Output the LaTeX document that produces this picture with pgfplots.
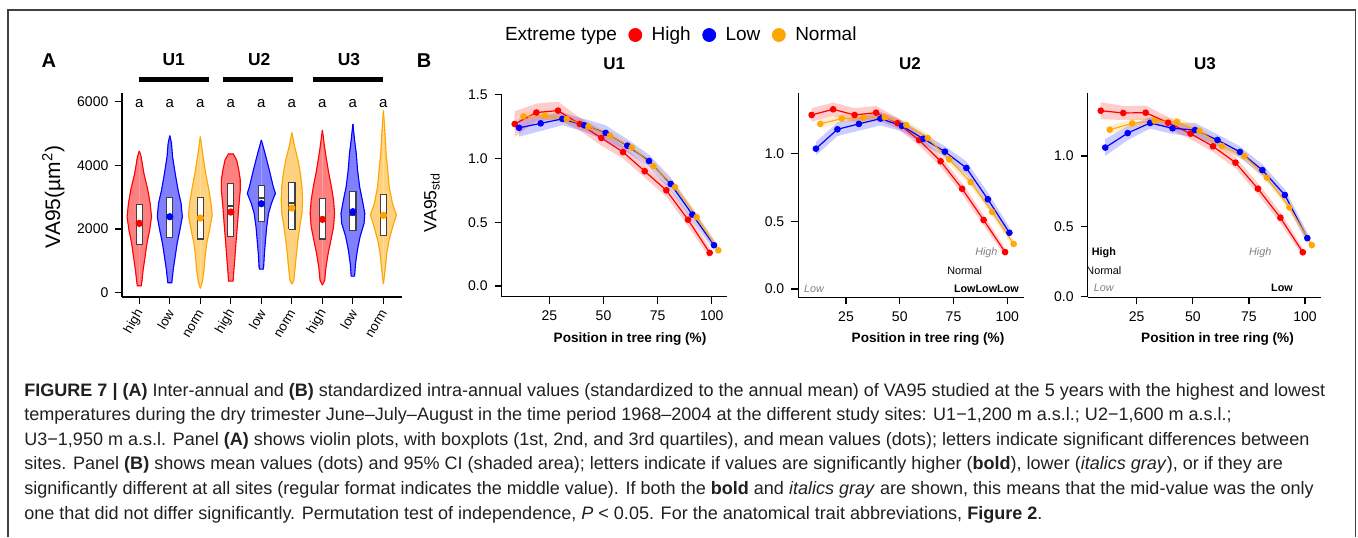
\documentclass[border=0pt]{standalone}
\usepackage{fontspec}
\setmainfont{Liberation Sans}
\newfontfamily\capfont{Liberation Sans}
\usepackage{pgfplots}
\usepackage{pgfplotstable}
\pgfplotsset{compat=1.18}
\definecolor{orng}{HTML}{FFA500}
\definecolor{capcol}{HTML}{231F20}
\newlength{\capw}

% ---------- Panel A: violin profiles (value, half-width in category units)
\pgfplotstableread{
v w
220 0
220 0.065
397 0.09
711 0.125
1130 0.19
1549 0.25
1968 0.34
2386 0.40
2805 0.355
3224 0.28
3748 0.15
4270 0.06
4450 0
}\vA
\pgfplotstableread{
v w
313 0
313 0.065
397 0.075
711 0.11
1130 0.175
1549 0.24
1968 0.33
2386 0.41
2805 0.37
3224 0.27
3748 0.175
4271 0.09
4690 0.055
4931 0
}\vB
\pgfplotstableread{
v w
135 0
345 0.065
711 0.12
1130 0.155
1549 0.21
1968 0.30
2440 0.39
2805 0.35
3224 0.28
3748 0.175
4271 0.09
4899 0
}\vC
\pgfplotstableread{
v w
366 0
366 0.075
450 0.08
711 0.10
1130 0.135
1654 0.175
2177 0.22
2700 0.26
3224 0.31
3538 0.31
3852 0.26
4166 0.19
4355 0.08
4355 0
}\vD
\pgfplotstableread{
v w
742 0
742 0.06
815 0.075
1234 0.10
1653 0.137
2072 0.175
2490 0.235
2805 0.33
3119 0.46
3328 0.39
3852 0.26
4375 0.12
4794 0
}\vE
\pgfplotstableread{
v w
271 0
396 0.065
815 0.11
1234 0.15
1653 0.20
2072 0.26
2490 0.33
2910 0.35
3328 0.33
3747 0.28
4166 0.20
4584 0.09
5024 0
}\vF
\pgfplotstableread{
v w
240 0
396 0.077
815 0.12
1234 0.19
1653 0.28
2072 0.366
2490 0.40
2910 0.366
3328 0.295
3747 0.21
4166 0.137
4584 0.07
5108 0
}\vG
\pgfplotstableread{
v w
522 0
522 0.055
920 0.087
1339 0.148
1758 0.235
2177 0.366
2490 0.39
2910 0.31
3328 0.22
3852 0.153
4375 0.11
4794 0.055
5296 0
}\vH
\pgfplotstableread{
v w
271 0
815 0.066
1234 0.109
1653 0.186
2072 0.306
2438 0.426
2805 0.295
3328 0.19
3852 0.142
4375 0.087
5108 0.045
5715 0
}\vI

% ---------- Panel B: means and CI half-widths (rows 0-9 forward, 10-19 reversed for the CI outline)
\pgfplotstableread{
k H eH L eL N eN s
10 1.27 0.10 1.24 0.07 1.33 0.03 1
20 1.36 0.07 1.275 0.06 1.335 0.03 1
30 1.375 0.07 1.31 0.05 1.31 0.03 1
40 1.27 0.05 1.26 0.05 1.25 0.03 1
50 1.16 0.06 1.20 0.06 1.18 0.03 1
60 1.05 0.05 1.10 0.05 1.085 0.03 1
70 0.90 0.05 0.98 0.05 0.94 0.03 1
80 0.75 0.05 0.80 0.05 0.775 0.03 1
90 0.52 0.05 0.56 0.05 0.54 0.03 1
100 0.26 0.04 0.32 0.04 0.28 0.03 1
100 0.26 0.04 0.32 0.04 0.28 0.03 -1
90 0.52 0.05 0.56 0.05 0.54 0.03 -1
80 0.75 0.05 0.80 0.05 0.775 0.03 -1
70 0.90 0.05 0.98 0.05 0.94 0.03 -1
60 1.05 0.05 1.10 0.05 1.085 0.03 -1
50 1.16 0.06 1.20 0.06 1.18 0.03 -1
40 1.27 0.05 1.26 0.05 1.25 0.03 -1
30 1.375 0.07 1.31 0.05 1.31 0.03 -1
20 1.36 0.07 1.275 0.06 1.335 0.03 -1
10 1.27 0.10 1.24 0.07 1.33 0.03 -1
}\tUa
\pgfplotstableread{
k H eH L eL N eN s
10 1.286 0.05 1.037 0.05 1.22 0.03 1
20 1.328 0.05 1.18 0.05 1.259 0.03 1
30 1.286 0.05 1.22 0.05 1.264 0.03 1
40 1.303 0.05 1.259 0.05 1.269 0.03 1
50 1.225 0.04 1.205 0.04 1.212 0.03 1
60 1.10 0.04 1.11 0.04 1.116 0.03 1
70 0.944 0.04 1.015 0.04 0.958 0.03 1
80 0.741 0.04 0.894 0.05 0.79 0.03 1
90 0.51 0.04 0.663 0.05 0.569 0.03 1
100 0.273 0.03 0.416 0.04 0.333 0.03 1
100 0.273 0.03 0.416 0.04 0.333 0.03 -1
90 0.51 0.04 0.663 0.05 0.569 0.03 -1
80 0.741 0.04 0.894 0.05 0.79 0.03 -1
70 0.944 0.04 1.015 0.04 0.958 0.03 -1
60 1.10 0.04 1.11 0.04 1.116 0.03 -1
50 1.225 0.04 1.205 0.04 1.212 0.03 -1
40 1.303 0.05 1.259 0.05 1.269 0.03 -1
30 1.286 0.05 1.22 0.05 1.264 0.03 -1
20 1.328 0.05 1.18 0.05 1.259 0.03 -1
10 1.286 0.05 1.037 0.05 1.22 0.03 -1
}\tUb
\pgfplotstableread{
k H eH L eL N eN s
10 1.322 0.06 1.06 0.06 1.187 0.03 1
20 1.306 0.05 1.163 0.05 1.232 0.03 1
30 1.308 0.05 1.235 0.04 1.251 0.03 1
40 1.237 0.04 1.197 0.04 1.242 0.03 1
50 1.159 0.04 1.185 0.05 1.178 0.03 1
60 1.069 0.04 1.114 0.04 1.071 0.03 1
70 0.953 0.04 1.029 0.04 1.0 0.03 1
80 0.768 0.04 0.90 0.04 0.846 0.03 1
90 0.562 0.04 0.723 0.04 0.635 0.03 1
100 0.316 0.03 0.417 0.04 0.367 0.03 1
100 0.316 0.03 0.417 0.04 0.367 0.03 -1
90 0.562 0.04 0.723 0.04 0.635 0.03 -1
80 0.768 0.04 0.90 0.04 0.846 0.03 -1
70 0.953 0.04 1.029 0.04 1.0 0.03 -1
60 1.069 0.04 1.114 0.04 1.071 0.03 -1
50 1.159 0.04 1.185 0.05 1.178 0.03 -1
40 1.237 0.04 1.197 0.04 1.242 0.03 -1
30 1.308 0.05 1.235 0.04 1.251 0.03 -1
20 1.306 0.05 1.163 0.05 1.232 0.03 -1
10 1.322 0.06 1.06 0.06 1.187 0.03 -1
}\tUc

\newcommand{\violin}[3]{%
 \addplot[fill=#2!50, draw=#2!50, line width=0.3pt] table[x expr=#1+\thisrow{w}, y=v]{#3};
 \addplot[fill=#2!50, draw=#2!50, line width=0.3pt] table[x expr=#1-\thisrow{w}, y=v]{#3};
 \addplot[#2, line width=0.55pt] table[x expr=#1+\thisrow{w}, y=v]{#3};
 \addplot[#2, line width=0.55pt] table[x expr=#1-\thisrow{w}, y=v]{#3};
}
\newcommand{\bx}[4]{%
 \addplot[draw=black!75, fill=white, line width=0.6pt] table[row sep=\\, x expr=#1+\thisrow{d}, y=v]{d v\\ -0.1 #2\\ 0.1 #2\\ 0.1 #4\\ -0.1 #4\\ -0.1 #2\\};
 \addplot[draw=black!75, line width=1.1pt] table[row sep=\\, x expr=#1+\thisrow{d}, y=v]{d v\\ -0.1 #3\\ 0.1 #3\\};
}
\newcommand{\band}[5]{%
 \addplot[fill=#5, fill opacity=0.2, draw=none, forget plot] table[x expr=\thisrow{k}#4, y expr=\thisrow{#2}+\thisrow{s}*\thisrow{#3}]{#1};
}
\newcommand{\ser}[5]{%
 \addplot[#4, line width=0.6pt, mark=*, mark size=1.35pt, forget plot, skip coords between index={10}{20}, #5] table[x expr=\thisrow{k}#3, y=#2]{#1};
}

\pgfplotsset{
 bpanel/.style={
  scale only axis, anchor=south west,
  axis lines*=left, axis line style={line width=0.6pt, black},
  tick align=outside, major tick length=3.5pt, tick style={line width=0.6pt, black},
  xtick={25,50,75,100}, ytick={0,0.5,1,1.5},
  tick label style={font=\fontsize{7}{8}\selectfont},
  /pgf/number format/assume math mode=true,
  yticklabel style={/pgf/number format/.cd, fixed, fixed zerofill, precision=1},
 },
}

\def\capA{\textbf{FIGURE 7 | (A)} Inter-annual and \textbf{(B)} standardized intra-annual values (standardized to the annual mean) of VA95 studied at the 5 years with the highest and lowest}
\def\capB{temperatures during the dry trimester June–July–August in the time period 1968–2004 at the different study sites: U1−1,200 m a.s.l.; U2−1,600 m a.s.l.;}
\def\capC{U3−1,950 m a.s.l. Panel \textbf{(A)} shows violin plots, with boxplots (1st, 2nd, and 3rd quartiles), and mean values (dots); letters indicate significant differences between}
\def\capD{sites. Panel \textbf{(B)} shows mean values (dots) and 95\% CI (shaded area); letters indicate if values are significantly higher (\textbf{bold}), lower (\textit{italics gray}), or if they are}
\def\capE{significantly different at all sites (regular format indicates the middle value). If both the \textbf{bold} and \textit{italics gray} are shown, this means that the mid-value was the only}
\def\capF{one that did not differ significantly. Permutation test of independence, \textit{P} < 0.05. For the anatomical trait abbreviations, \textbf{Figure 2}.}

\begin{document}
\settowidth{\capw}{\capfont\fontsize{10pt}{12pt}\selectfont\capA}%
\pgfmathsetmacro{\capfs}{10*650.5/\capw}%
\begin{tikzpicture}
\path[use as bounding box] (0pt,0pt) rectangle (679pt,-268.5pt);
\draw[black!75, line width=0.6pt] (4pt,-268.5pt) -- (4pt,-5pt) -- (677.75pt,-5pt) -- (677.75pt,-268.5pt);

% ================= Panel A
\begin{axis}[at={(61pt,-148.5pt)}, anchor=south west, scale only axis,
 width=140pt, height=102pt,
 xmin=0.433, xmax=9.61, ymin=-135, ymax=6270,
 axis lines*=left, axis line style={line width=0.6pt, black},
 tick align=outside, major tick length=3.3pt, tick style={line width=0.6pt, black},
 xtick={1,2,3,4,5,6,7,8,9},
 xticklabels={high,low,norm,high,low,norm,high,low,norm},
 ytick={0,2000,4000,6000},
 /pgf/number format/1000 sep={}, /pgf/number format/assume math mode=true,
 yticklabel style={font=\fontsize{7}{8}\selectfont},
 xticklabel style={font=\fontsize{6.6}{7}\selectfont, xshift=2.2pt, yshift=-0.5pt, rotate=60, anchor=east},
 clip=false]
 \violin{1}{red}{\vA}
 \violin{2}{blue}{\vB}
 \violin{3}{orng}{\vC}
 \violin{4}{red}{\vD}
 \violin{5}{blue}{\vE}
 \violin{6}{orng}{\vF}
 \violin{7}{red}{\vG}
 \violin{8}{blue}{\vH}
 \violin{9}{orng}{\vI}
 \bx{1}{1518}{2180}{2774}
 \bx{2}{1727}{2390}{2983}
 \bx{3}{1685}{2340}{2994}
 \bx{4}{1758}{2711}{3423}
 \bx{5}{2239}{2982}{3360}
 \bx{6}{1988}{2815}{3454}
 \bx{7}{1684}{2330}{2962}
 \bx{8}{1946}{2428}{3171}
 \bx{9}{1789}{2407}{3087}
 \addplot[only marks, mark=*, red, mark size=1.6pt] coordinates {(1,2177) (4,2533) (7,2302)};
 \addplot[only marks, mark=*, blue, mark size=1.6pt] coordinates {(2,2386) (5,2794) (8,2543)};
 \addplot[only marks, mark=*, orng, mark size=1.6pt] coordinates {(3,2345) (6,2658) (9,2428)};
 \node[font=\fontsize{7.5}{8}\selectfont] at (axis cs:1,5950) {a};
 \node[font=\fontsize{7.5}{8}\selectfont] at (axis cs:2,5950) {a};
 \node[font=\fontsize{7.5}{8}\selectfont] at (axis cs:3,5950) {a};
 \node[font=\fontsize{7.5}{8}\selectfont] at (axis cs:4,5950) {a};
 \node[font=\fontsize{7.5}{8}\selectfont] at (axis cs:5,5950) {a};
 \node[font=\fontsize{7.5}{8}\selectfont] at (axis cs:6,5950) {a};
 \node[font=\fontsize{7.5}{8}\selectfont] at (axis cs:7,5950) {a};
 \node[font=\fontsize{7.5}{8}\selectfont] at (axis cs:8,5950) {a};
 \node[font=\fontsize{7.5}{8}\selectfont] at (axis cs:9,5950) {a};
\end{axis}

% ================= Panel B, U1
\begin{axis}[bpanel, at={(250.85pt,-148.35pt)}, width=112.65pt, height=101.35pt,
 xmin=3, xmax=107, ymin=-0.084, ymax=1.505]
 \band{\tUa}{H}{eH}{-1}{red}
 \band{\tUa}{L}{eL}{+1}{blue}
 \band{\tUa}{N}{eN}{+3}{orng}
 \ser{\tUa}{H}{-1}{red}{}
 \ser{\tUa}{L}{+1}{blue}{}
 \ser{\tUa}{N}{+3}{orng}{opacity=0.9}
\end{axis}

% ================= Panel B, U2
\begin{axis}[bpanel, at={(399.15pt,-148.65pt)}, width=112.85pt, height=102pt,
 xmin=2.8, xmax=107.8, ymin=-0.061, ymax=1.446,
 legend style={draw=none, fill=none, inner sep=0pt, outer sep=0pt,
   at={(-1.3416,1.2858)}, anchor=west,
   font=\fontsize{9.5}{11}\selectfont,
   nodes={inner xsep=0pt, inner ysep=1pt},
   /tikz/every odd column/.append style={column sep=4.75pt},
   /tikz/every even column/.append style={column sep=5.75pt}},
 legend columns=-1, legend cell align=left,
 legend image code/.code={\fill[#1] (3.25pt,0pt) circle (3.25pt);}]
 \addlegendimage{empty legend}\addlegendentry{Extreme type}
 \addlegendimage{red}\addlegendentry{High}
 \addlegendimage{blue}\addlegendentry{Low}
 \addlegendimage{orng}\addlegendentry{Normal}
 \band{\tUb}{H}{eH}{-1}{red}
 \band{\tUb}{L}{eL}{+1}{blue}
 \band{\tUb}{N}{eN}{+3}{orng}
 \ser{\tUb}{H}{-1}{red}{}
 \ser{\tUb}{L}{+1}{blue}{}
 \ser{\tUb}{N}{+3}{orng}{opacity=0.9}
 \node[font=\fontsize{5.4}{6}\selectfont\itshape, text=black!50] at (axis cs:90.3,0.268) {High};
 \node[font=\fontsize{5.4}{6}\selectfont] at (axis cs:80.2,0.135) {Normal};
 \node[font=\fontsize{5.4}{6}\selectfont\bfseries] at (axis cs:90.3,0.002) {LowLowLow};
 \node[font=\fontsize{5.4}{6}\selectfont\itshape, text=black!50] at (axis cs:10.1,0.0) {Low};
\end{axis}

% ================= Panel B, U3
\begin{axis}[bpanel, at={(543.85pt,-148.65pt)}, width=116.65pt, height=102.3pt,
 xmin=3.2, xmax=107.1, ymin=-0.004, ymax=1.45]
 \band{\tUc}{H}{eH}{-1}{red}
 \band{\tUc}{L}{eL}{+1}{blue}
 \band{\tUc}{N}{eN}{+3}{orng}
 \ser{\tUc}{H}{-1}{red}{}
 \ser{\tUc}{L}{+1}{blue}{}
 \ser{\tUc}{N}{+3}{orng}{opacity=0.9}
 \node[font=\fontsize{5.4}{6}\selectfont\bfseries] at (axis cs:10.4,0.313) {High};
 \node[font=\fontsize{5.4}{6}\selectfont] at (axis cs:10.4,0.185) {Normal};
 \node[font=\fontsize{5.4}{6}\selectfont\itshape, text=black!50] at (axis cs:10.4,0.06) {Low};
 \node[font=\fontsize{5.4}{6}\selectfont\itshape, text=black!50] at (axis cs:80,0.313) {High};
 \node[font=\fontsize{5.4}{6}\selectfont\bfseries] at (axis cs:89.7,0.06) {Low};
\end{axis}

% ================= Free text (pixel coordinates)
\begin{scope}[x=0.5pt, y=-0.5pt]
 \node[font=\fontsize{10}{12}\selectfont\bfseries] at (48.8,60.5) {A};
 \node[font=\fontsize{10}{12}\selectfont\bfseries] at (424,60.5) {B};
 \node[font=\fontsize{8.7}{10}\selectfont\bfseries] at (173.8,60) {U1};
 \node[font=\fontsize{8.7}{10}\selectfont\bfseries] at (259.3,60) {U2};
 \node[font=\fontsize{8.7}{10}\selectfont\bfseries] at (349,60) {U3};
 \draw[line width=2.2pt] (139,79.5) -- (209,79.5);
 \draw[line width=2.2pt] (223.3,79.5) -- (293,79.5);
 \draw[line width=2.2pt] (313,79.5) -- (383,79.5);
 \node[rotate=90, font=\fontsize{10.5}{12}\selectfont] at (53.3,197) {VA95(µm\textsuperscript{2})};
 \node[rotate=90, font=\fontsize{8.8}{10}\selectfont] at (432,203) {VA95\raisebox{-0.35ex}{\fontsize{6.2}{7}\selectfont std}};
 \node[font=\fontsize{8.5}{10}\selectfont\bfseries] at (614.2,63.5) {U1};
 \node[font=\fontsize{8.5}{10}\selectfont\bfseries] at (910,63.5) {U2};
 \node[font=\fontsize{8.5}{10}\selectfont\bfseries] at (1205,63.5) {U3};
 \node[font=\fontsize{6.8}{8}\selectfont\bfseries] at (630,339.5) {Position in tree ring (\%)};
 \node[font=\fontsize{6.8}{8}\selectfont\bfseries] at (928,339.5) {Position in tree ring (\%)};
 \node[font=\fontsize{6.8}{8}\selectfont\bfseries] at (1217.5,339.5) {Position in tree ring (\%)};
 \node[anchor=base west, inner sep=0pt, text=capcol, font={\capfont\fontsize{\capfs pt}{\capfs pt}\selectfont}] at (24,396) {\capA};
 \node[anchor=base west, inner sep=0pt, text=capcol, font={\capfont\fontsize{\capfs pt}{\capfs pt}\selectfont}] at (24,420.6) {\capB};
 \node[anchor=base west, inner sep=0pt, text=capcol, font={\capfont\fontsize{\capfs pt}{\capfs pt}\selectfont}] at (24,445.2) {\capC};
 \node[anchor=base west, inner sep=0pt, text=capcol, font={\capfont\fontsize{\capfs pt}{\capfs pt}\selectfont}] at (24,469.8) {\capD};
 \node[anchor=base west, inner sep=0pt, text=capcol, font={\capfont\fontsize{\capfs pt}{\capfs pt}\selectfont}] at (24,494.4) {\capE};
 \node[anchor=base west, inner sep=0pt, text=capcol, font={\capfont\fontsize{\capfs pt}{\capfs pt}\selectfont}] at (24,519) {\capF};
\end{scope}
\end{tikzpicture}
\end{document}
